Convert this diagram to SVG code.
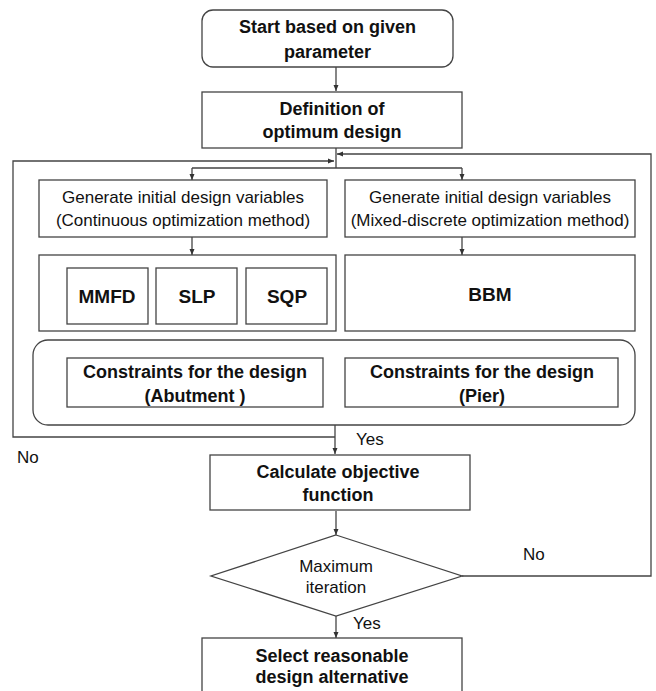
<svg xmlns="http://www.w3.org/2000/svg" width="656" height="691" viewBox="0 0 656 691">
<defs>
<marker id="ah" markerWidth="8" markerHeight="8" refX="7" refY="4" orient="auto" markerUnits="userSpaceOnUse">
<path d="M1,1.5 L7,4 L1,6.5 Z" fill="#333"/>
</marker>
<style>
.box{fill:#fff;stroke:#444;stroke-width:1.3}
.ln{fill:none;stroke:#444;stroke-width:1.3}
.t{font-family:"Liberation Sans",Arial,sans-serif;fill:#111;text-anchor:middle}
.b{font-weight:bold;font-size:18px}
.m{font-weight:bold;font-size:19px}
.r{font-size:17px}
.lab{font-family:"Liberation Sans",Arial,sans-serif;fill:#111;font-size:17px}
</style>
</defs>
<rect width="656" height="691" fill="#fff"/>
<g id="connectors">
<path class="ln" d="M336 67 V91" marker-end="url(#ah)"/>
<path class="ln" d="M336 148 V168 M192 168 H462"/>
<path class="ln" d="M192 168 V180" marker-end="url(#ah)"/>
<path class="ln" d="M462 168 V180" marker-end="url(#ah)"/>
<path class="ln" d="M192 237 V255" marker-end="url(#ah)"/>
<path class="ln" d="M462 237 V255" marker-end="url(#ah)"/>
<path class="ln" d="M335 425 V454" marker-end="url(#ah)"/>
<path class="ln" d="M336 511 V535" marker-end="url(#ah)"/>
<path class="ln" d="M336 616 V638" marker-end="url(#ah)"/>
<path class="ln" d="M462 576 H651 V154 H337" marker-end="url(#ah)"/>
<path class="ln" d="M335 437 H13 V161 H334" marker-end="url(#ah)"/>
</g>
<g id="start">
<rect class="box" x="202" y="10" width="251" height="57" rx="11"/>
<text class="t b" x="327.5" y="33">Start based on given</text>
<text class="t b" x="327.5" y="58">parameter</text>
</g>
<g id="definition">
<rect class="box" x="202" y="92" width="260" height="56"/>
<text class="t b" x="332" y="115">Definition of</text>
<text class="t b" x="332" y="138">optimum design</text>
</g>
<g id="gen-continuous">
<rect class="box" x="39" y="180" width="288" height="57"/>
<text class="t r" x="183" y="203">Generate initial design variables</text>
<text class="t r" x="183" y="226">(Continuous optimization method)</text>
</g>
<g id="gen-mixed">
<rect class="box" x="345" y="180" width="290" height="57"/>
<text class="t r" x="490" y="203">Generate initial design variables</text>
<text class="t r" x="490" y="226">(Mixed-discrete optimization method)</text>
</g>
<g id="continuous-methods">
<rect class="box" x="39" y="255" width="297" height="76"/>
</g>
<g id="mmfd">
<rect class="box" x="67" y="268" width="81" height="56"/>
<text class="t m" x="107" y="303">MMFD</text>
</g>
<g id="slp">
<rect class="box" x="156" y="268" width="81" height="56"/>
<text class="t m" x="197" y="303">SLP</text>
</g>
<g id="sqp">
<rect class="box" x="246" y="268" width="81" height="56"/>
<text class="t m" x="287" y="303">SQP</text>
</g>
<g id="bbm">
<rect class="box" x="345" y="255" width="290" height="76"/>
<text class="t m" x="490" y="301">BBM</text>
</g>
<g id="constraints">
<rect class="box" x="33" y="340" width="602" height="85" rx="15"/>
</g>
<g id="constraints-abutment">
<rect class="box" x="67" y="358" width="256" height="49"/>
<text class="t b" x="195" y="378">Constraints for the design</text>
<text class="t b" x="195" y="402">(Abutment )</text>
</g>
<g id="constraints-pier">
<rect class="box" x="345" y="358" width="273" height="49"/>
<text class="t b" x="482" y="378">Constraints for the design</text>
<text class="t b" x="482" y="402">(Pier)</text>
</g>
<g id="calculate">
<rect class="box" x="210" y="455" width="260" height="55"/>
<text class="t b" x="338" y="478">Calculate objective</text>
<text class="t b" x="338" y="501">function</text>
</g>
<g id="max-iteration">
<polygon class="box" points="336,535 462,576 336,616 211,576"/>
<text class="t r" x="336" y="572">Maximum</text>
<text class="t r" x="336" y="593">iteration</text>
</g>
<g id="select">
<rect class="box" x="202" y="638" width="260" height="60"/>
<text class="t b" x="332" y="662">Select reasonable</text>
<text class="t b" x="332" y="683">design alternative</text>
</g>
<g id="labels">
<text class="lab" x="356" y="445">Yes</text>
<text class="lab" x="17" y="463">No</text>
<text class="lab" x="523" y="560">No</text>
<text class="lab" x="353" y="629">Yes</text>
</g>
</svg>
